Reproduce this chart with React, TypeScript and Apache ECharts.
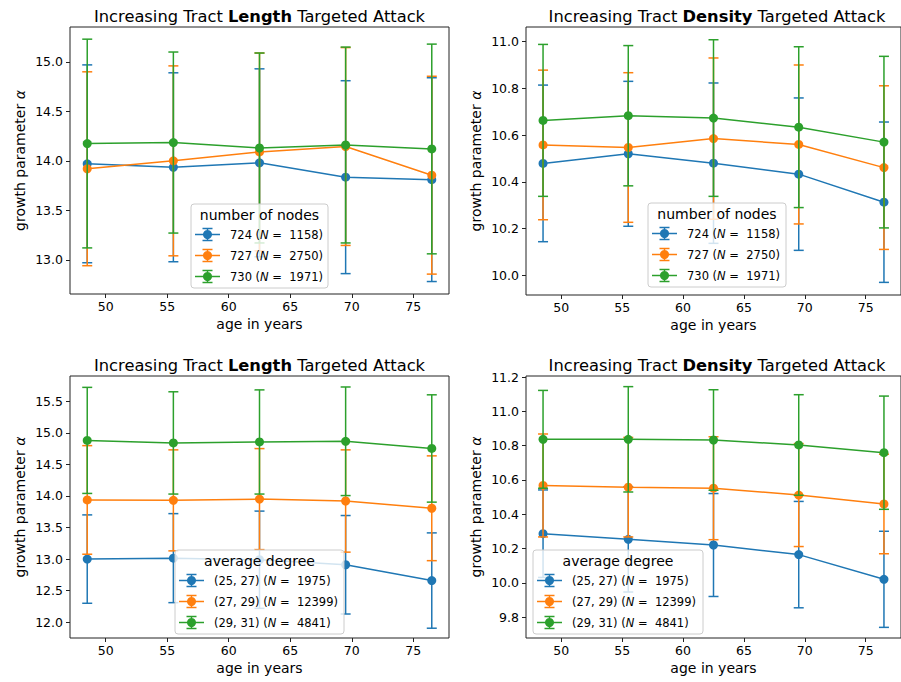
import React, { useEffect, useRef } from "react";
import * as echarts from "echarts";

const FONT = "DejaVu Sans";
const COLORS = ["#1f77b4", "#ff7f0e", "#2ca02c"];

// age bins (centres, years)
const ages = [48.5, 55.5, 62.5, 69.5, 76.5];
const ageTicks = [50, 55, 60, 65, 70, 75];

// legend groups
const nodeGroups = ["724", "727", "730"];
const nodeCounts = [1158, 2750, 1971];
const degreeGroups = ["(25, 27)", "(27, 29)", "(29, 31)"];
const degreeCounts = [1975, 12399, 4841];

// tract length attack, grouped by number of nodes: mean and std of alpha
const lenNodes724 = [13.97, 13.935, 13.98, 13.835, 13.81];
const lenNodes724Err = [1.0, 0.955, 0.95, 0.975, 1.03];
const lenNodes727 = [13.92, 14.0, 14.09, 14.145, 13.855];
const lenNodes727Err = [0.98, 0.96, 1.0, 1.0, 1.0];
const lenNodes730 = [14.175, 14.185, 14.13, 14.16, 14.12];
const lenNodes730Err = [1.055, 0.915, 0.96, 0.99, 1.06];
const lenNodesTicks = [13.0, 13.5, 14.0, 14.5, 15.0];

// tract density attack, grouped by number of nodes
const denNodes724 = [10.479, 10.52, 10.48, 10.433, 10.313];
const denNodes724Err = [0.335, 0.31, 0.343, 0.326, 0.343];
const denNodes727 = [10.558, 10.547, 10.585, 10.56, 10.461];
const denNodes727Err = [0.32, 0.32, 0.345, 0.34, 0.35];
const denNodes730 = [10.663, 10.683, 10.673, 10.634, 10.57];
const denNodes730Err = [0.325, 0.3, 0.335, 0.344, 0.367];
const denNodesTicks = [10.0, 10.2, 10.4, 10.6, 10.8, 11.0];

// tract length attack, grouped by average degree
const lenDeg25 = [13.0, 13.015, 12.99, 12.91, 12.66];
const lenDeg25Err = [0.7, 0.705, 0.77, 0.78, 0.755];
const lenDeg27 = [13.937, 13.93, 13.95, 13.92, 13.805];
const lenDeg27Err = [0.86, 0.8, 0.8, 0.81, 0.83];
const lenDeg29 = [14.88, 14.84, 14.855, 14.866, 14.752];
const lenDeg29Err = [0.84, 0.81, 0.825, 0.86, 0.85];
const lenDegTicks = [12.0, 12.5, 13.0, 13.5, 14.0, 14.5, 15.0, 15.5];

// tract density attack, grouped by average degree
const denDeg25 = [10.287, 10.254, 10.221, 10.165, 10.021];
const denDeg25Err = [0.255, 0.307, 0.3, 0.31, 0.28];
const denDeg27 = [10.568, 10.558, 10.552, 10.512, 10.46];
const denDeg27Err = [0.3, 0.29, 0.3, 0.3, 0.29];
const denDeg29 = [10.837, 10.837, 10.833, 10.804, 10.759];
const denDeg29Err = [0.285, 0.307, 0.293, 0.293, 0.33];
const denDegTicks = [9.8, 10.0, 10.2, 10.4, 10.6, 10.8, 11.0, 11.2];

type Panel = {
  grid: { left: number; top: number; width: number; height: number };
  title: string;
  yMin: number;
  yMax: number;
  yTicks: number[];
  means: number[][];
  errs: number[][];
  legend: { left: number; top: number; width: number; title: string; names: string[]; counts: number[] };
};

const panels: Panel[] = [
  {
    grid: { left: 70, top: 27, width: 379, height: 267 },
    title: "Increasing Tract {b|Length} Targeted Attack",
    yMin: 12.654,
    yMax: 15.353,
    yTicks: lenNodesTicks,
    means: [lenNodes724, lenNodes727, lenNodes730],
    errs: [lenNodes724Err, lenNodes727Err, lenNodes730Err],
    legend: { left: 191, top: 204, width: 137, title: "number of nodes", names: nodeGroups, counts: nodeCounts },
  },
  {
    grid: { left: 526, top: 27, width: 382, height: 268 },
    title: "Increasing Tract {b|Density} Targeted Attack",
    yMin: 9.916,
    yMax: 11.0625,
    yTicks: denNodesTicks,
    means: [denNodes724, denNodes727, denNodes730],
    errs: [denNodes724Err, denNodes727Err, denNodes730Err],
    legend: { left: 648, top: 203, width: 138, title: "number of nodes", names: nodeGroups, counts: nodeCounts },
  },
  {
    grid: { left: 70, top: 376, width: 379, height: 262 },
    title: "Increasing Tract {b|Length} Targeted Attack",
    yMin: 11.75,
    yMax: 15.9,
    yTicks: lenDegTicks,
    means: [lenDeg25, lenDeg27, lenDeg29],
    errs: [lenDeg25Err, lenDeg27Err, lenDeg29Err],
    legend: { left: 175, top: 550, width: 169, title: "average degree", names: degreeGroups, counts: degreeCounts },
  },
  {
    grid: { left: 526, top: 376, width: 382, height: 262 },
    title: "Increasing Tract {b|Density} Targeted Attack",
    yMin: 9.679,
    yMax: 11.206,
    yTicks: denDegTicks,
    means: [denDeg25, denDeg27, denDeg29],
    errs: [denDeg25Err, denDeg27Err, denDeg29Err],
    legend: { left: 533, top: 550, width: 170, title: "average degree", names: degreeGroups, counts: degreeCounts },
  },
];

const AXIS_COLOR = "#222";

function errorBars(idx: number, mean: number[], err: number[], color: string, z: number) {
  return {
    type: "custom",
    xAxisIndex: idx,
    yAxisIndex: idx,
    z,
    silent: true,
    data: ages.map((a, i) => [a, mean[i] - err[i], mean[i] + err[i]]),
    encode: { x: 0, y: [1, 2] },
    renderItem: (_params: any, api: any) => {
      const lo = api.coord([api.value(0), api.value(1)]);
      const hi = api.coord([api.value(0), api.value(2)]);
      const style = { stroke: color, lineWidth: 1.5, fill: null };
      return {
        type: "group",
        children: [
          { type: "line", shape: { x1: lo[0], y1: lo[1], x2: hi[0], y2: hi[1] }, style },
          { type: "line", shape: { x1: lo[0] - 5, y1: lo[1], x2: lo[0] + 5, y2: lo[1] }, style },
          { type: "line", shape: { x1: hi[0] - 5, y1: hi[1], x2: hi[0] + 5, y2: hi[1] }, style },
        ],
      };
    },
  };
}

function meanLine(idx: number, mean: number[], color: string, z: number) {
  return {
    type: "line",
    xAxisIndex: idx,
    yAxisIndex: idx,
    z,
    silent: true,
    data: ages.map((a, i) => [a, mean[i]]),
    symbol: "circle",
    symbolSize: 9,
    showSymbol: true,
    lineStyle: { color, width: 1.5 },
    itemStyle: { color },
  };
}

function legendBox(lg: Panel["legend"]) {
  const els: any[] = [];
  const Z = 50;
  els.push({
    type: "rect",
    z: Z,
    shape: { x: lg.left, y: lg.top, width: lg.width, height: 84, r: 3 },
    style: { fill: "rgba(255,255,255,0.8)", stroke: "#cccccc", lineWidth: 1 },
  });
  els.push({
    type: "text",
    z: Z + 1,
    x: lg.left + lg.width / 2,
    y: lg.top + 11,
    style: {
      text: lg.title,
      fontSize: 14,
      fontFamily: FONT,
      fill: "#000",
      align: "center",
      verticalAlign: "middle",
    },
  });
  lg.names.forEach((name, i) => {
    const cy = lg.top + 30.5 + i * 21;
    const cx = lg.left + 16.5;
    const color = COLORS[i];
    const st = { stroke: color, lineWidth: 1.5 };
    els.push({ type: "line", z: Z + 1, shape: { x1: lg.left + 4, y1: cy, x2: lg.left + 29, y2: cy }, style: st });
    els.push({ type: "line", z: Z + 1, shape: { x1: cx, y1: cy - 6, x2: cx, y2: cy + 6 }, style: st });
    els.push({ type: "line", z: Z + 1, shape: { x1: cx - 5, y1: cy - 6, x2: cx + 5, y2: cy - 6 }, style: st });
    els.push({ type: "line", z: Z + 1, shape: { x1: cx - 5, y1: cy + 6, x2: cx + 5, y2: cy + 6 }, style: st });
    els.push({ type: "circle", z: Z + 2, shape: { cx, cy, r: 4.5 }, style: { fill: color } });
    els.push({
      type: "text",
      z: Z + 1,
      x: lg.left + 39,
      y: cy,
      style: {
        text: `${name} ({i|N} =  ${lg.counts[i]})`,
        fontSize: 11.5,
        fontFamily: FONT,
        fill: "#000",
        align: "left",
        verticalAlign: "middle",
        rich: { i: { fontStyle: "italic", fontSize: 11.5, fontFamily: FONT, fill: "#000" } },
      },
    });
  });
  return els;
}

export default function App() {
  const ref = useRef<HTMLDivElement>(null);

  useEffect(() => {
    document.body.style.margin = "0";
    if (!ref.current) return;
    const chart = echarts.init(ref.current, undefined, { renderer: "svg" });

    const grids = panels.map((p) => ({
      ...p.grid,
      show: true,
      borderColor: AXIS_COLOR,
      borderWidth: 1,
      backgroundColor: "transparent",
      containLabel: false,
    }));

    const xAxes = panels.map((_p, i) => ({
      type: "value",
      gridIndex: i,
      min: 47.1,
      max: 77.9,
      name: "age in years",
      nameLocation: "middle",
      nameGap: 23,
      nameTextStyle: { fontSize: 14, fontFamily: FONT, color: "#000" },
      axisLine: { show: false },
      splitLine: { show: false },
      axisTick: { show: true, length: 4, lineStyle: { color: AXIS_COLOR }, customValues: ageTicks },
      axisLabel: {
        fontSize: 12.5,
        fontFamily: FONT,
        color: "#000",
        margin: 6,
        customValues: ageTicks,
        formatter: (v: number) => String(v),
      },
    }));

    const yAxes = panels.map((p, i) => ({
      type: "value",
      gridIndex: i,
      min: p.yMin,
      max: p.yMax,
      name: "growth parameter {i|α}",
      nameLocation: "middle",
      nameRotate: 90,
      nameGap: 43,
      nameTextStyle: {
        fontSize: 14,
        fontFamily: FONT,
        color: "#000",
        rich: { i: { fontStyle: "italic", fontSize: 14, fontFamily: FONT, color: "#000" } },
      },
      axisLine: { show: false },
      splitLine: { show: false },
      axisTick: { show: true, length: 4, lineStyle: { color: AXIS_COLOR }, customValues: p.yTicks },
      axisLabel: {
        fontSize: 12.5,
        fontFamily: FONT,
        color: "#000",
        margin: 7,
        customValues: p.yTicks,
        formatter: (v: number) => v.toFixed(1),
      },
    }));

    const series: any[] = [];
    panels.forEach((p, idx) => {
      p.means.forEach((m, k) => {
        series.push(errorBars(idx, m, p.errs[k], COLORS[k], 2 + k * 2));
        series.push(meanLine(idx, m, COLORS[k], 3 + k * 2));
      });
    });

    const graphics: any[] = [];
    panels.forEach((p) => {
      graphics.push({
        type: "text",
        z: 10,
        x: p.grid.left + p.grid.width / 2,
        y: p.grid.top - 11,
        style: {
          text: p.title,
          fontSize: 16.3,
          fontFamily: FONT,
          fill: "#000",
          align: "center",
          verticalAlign: "middle",
          rich: { b: { fontWeight: "bold", fontSize: 16.3, fontFamily: FONT, fill: "#000" } },
        },
      });
      graphics.push(...legendBox(p.legend));
    });

    chart.setOption({
      animation: false,
      backgroundColor: "#ffffff",
      grid: grids,
      xAxis: xAxes,
      yAxis: yAxes,
      series,
      graphic: { elements: graphics },
    });

    return () => chart.dispose();
  }, []);

  return <div ref={ref} style={{ width: 901, height: 682 }} />;
}
